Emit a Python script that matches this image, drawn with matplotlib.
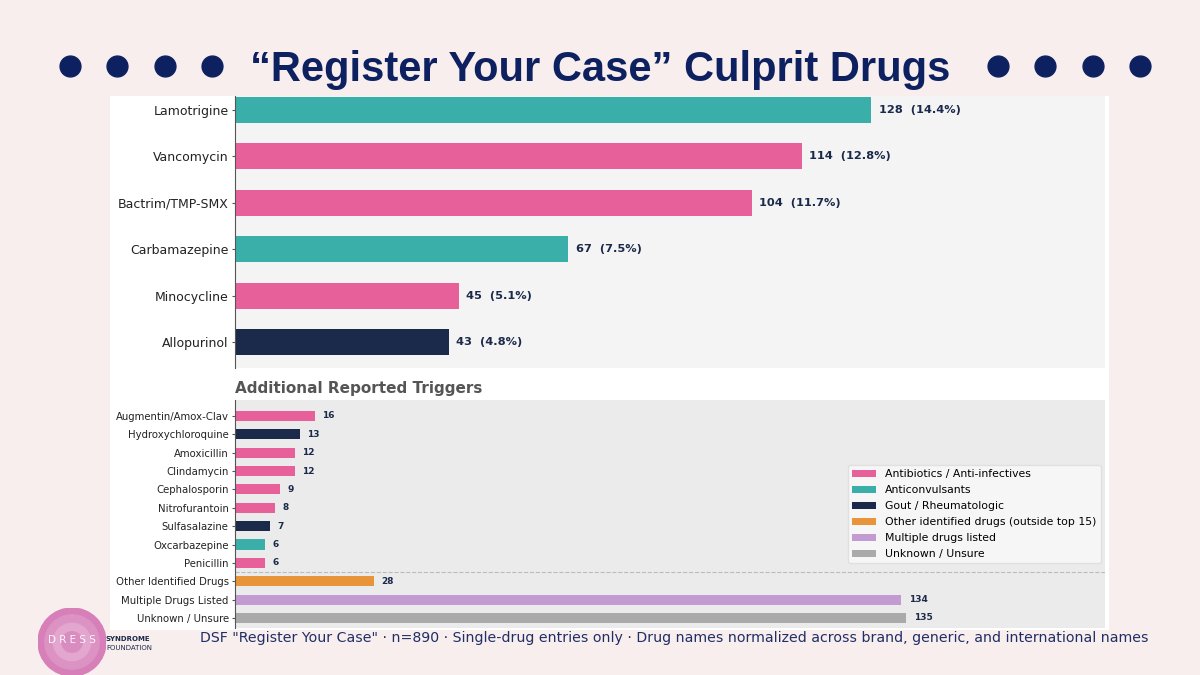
import matplotlib
matplotlib.use("Agg")
import matplotlib.pyplot as plt
from matplotlib.lines import Line2D
from matplotlib.patches import Rectangle, Circle, Patch

plt.rcParams["font.family"] = ["DejaVu Sans"]

# ---------------- data ----------------
top_drugs = ["Lamotrigine", "Vancomycin", "Bactrim/TMP-SMX", "Carbamazepine", "Minocycline", "Allopurinol"]
top_counts = [128, 114, 104, 67, 45, 43]
top_pcts = [14.4, 12.8, 11.7, 7.5, 5.1, 4.8]
top_groups = ["conv", "abx", "abx", "conv", "abx", "gout"]

add_drugs = ["Augmentin/Amox-Clav", "Hydroxychloroquine", "Amoxicillin", "Clindamycin",
             "Cephalosporin", "Nitrofurantoin", "Sulfasalazine", "Oxcarbazepine", "Penicillin",
             "Other Identified Drugs", "Multiple Drugs Listed", "Unknown / Unsure"]
add_counts = [16, 13, 12, 12, 9, 8, 7, 6, 6, 28, 134, 135]
add_groups = ["abx", "gout", "abx", "abx", "abx", "abx", "gout", "conv", "abx", "other", "multi", "unk"]

colors = {"abx": "#e8609a", "conv": "#3aafa9", "gout": "#1b2a4a",
          "other": "#e8943a", "multi": "#c39bd3", "unk": "#aaaaaa"}
legend_labels = {"abx": "Antibiotics / Anti-infectives", "conv": "Anticonvulsants",
                 "gout": "Gout / Rheumatologic", "other": "Other identified drugs (outside top 15)",
                 "multi": "Multiple drugs listed", "unk": "Unknown / Unsure"}

navy = "#0d2160"
label_col = "#1b2a4a"

fig = plt.figure(figsize=(12, 6.75), dpi=100)
fig.patch.set_facecolor("#f9eeee")

# white card behind the chart
fig.add_artist(Rectangle((110/1200, 1-630/675), 999/1200, 534/675, transform=fig.transFigure,
                         facecolor="white", edgecolor="none", zorder=0))

# title and dots
fig.text(0.5, 1-70/675, "\u201cRegister Your Case\u201d Culprit Drugs", ha="center", va="center",
         fontsize=30, fontweight="bold", color=navy, family="Liberation Sans")
for px in [70, 117, 165, 212, 998, 1045, 1093, 1140]:
    fig.add_artist(Line2D([px/1200], [1-66/675], marker="o", markersize=15, color=navy,
                          transform=fig.transFigure))

# ---------------- top chart ----------------
ax1 = fig.add_axes([235/1200, 1-368/675, 870/1200, 272/675])
ax1.set_facecolor("#f4f4f4")
y1 = list(range(len(top_drugs)))
ax1.barh(y1, top_counts, height=0.56, color=[colors[g] for g in top_groups], zorder=2)
for y, c, p in zip(y1, top_counts, top_pcts):
    ax1.text(c + 1.5, y, f"{c}  ({p}%)", va="center", ha="left", fontsize=8.2,
             fontweight="bold", color=label_col)
ax1.set_yticks(y1)
ax1.set_yticklabels(top_drugs, fontsize=9, color="#222222")
ax1.set_xlim(0, 175)
ax1.set_ylim(5.56, -0.30)
ax1.set_xticks([])
for s in ["top", "right", "bottom"]:
    ax1.spines[s].set_visible(False)
ax1.spines["left"].set_color("#555555")
ax1.spines["left"].set_linewidth(0.8)
ax1.tick_params(axis="y", length=2.5, pad=2, color="#555555", width=0.8)

# ---------------- bottom chart ----------------
ax2 = fig.add_axes([235/1200, 1-628/675, 870/1200, 228/675])
ax2.set_facecolor("#ebebeb")
y2 = list(range(len(add_drugs)))
ax2.barh(y2, add_counts, height=0.55, color=[colors[g] for g in add_groups], zorder=2)
for y, c in zip(y2, add_counts):
    ax2.text(c + 1.5, y, str(c), va="center", ha="left", fontsize=6.5,
             fontweight="bold", color=label_col)
ax2.axhline(8.5, color="#bbbbbb", linestyle="--", linewidth=0.8, zorder=1)
ax2.set_yticks(y2)
ax2.set_yticklabels(add_drugs, fontsize=7.3, color="#222222")
ax2.set_xlim(0, 175)
ax2.set_ylim(11.545, -0.87)
ax2.set_xticks([])
for s in ["top", "right", "bottom"]:
    ax2.spines[s].set_visible(False)
ax2.spines["left"].set_color("#555555")
ax2.spines["left"].set_linewidth(0.8)
ax2.tick_params(axis="y", length=2.5, pad=2, color="#555555", width=0.8)
ax2.set_title("Additional Reported Triggers", loc="left", fontsize=11, fontweight="bold",
              color="#555555", pad=5)

handles = [Patch(facecolor=colors[k], label=legend_labels[k]) for k in ["abx", "conv", "gout", "other", "multi", "unk"]]
ax2.legend(handles=handles, loc="upper right", bbox_to_anchor=(0.995, 0.715), fontsize=7.8,
           frameon=True, facecolor="#fafafa", edgecolor="#dddddd", borderaxespad=0,
           handlelength=2.2, handleheight=0.7, labelspacing=0.55)

# ---------------- footer ----------------
fig.text(200/1200, 1-638/675,
         'DSF "Register Your Case" \u00b7 n=890 \u00b7 Single-drug entries only \u00b7 '
         'Drug names normalized across brand, generic, and international names',
         ha="left", va="center", fontsize=10.2, color="#1f2f66")

# logo
axl = fig.add_axes([38/1200, 1-676/675, 68/1200, 68/675])
axl.set_xlim(-1, 1)
axl.set_ylim(-1, 1)
axl.set_aspect("equal")
axl.axis("off")
for r, col in [(1.0, "#d67fb8"), (0.8, "#dc92c3"), (0.55, "#e3a6cf"), (0.3, "#d88cc0")]:
    axl.add_patch(Circle((0, 0), r, color=col))
axl.text(0, 0.05, "D R E S S", ha="center", va="center", fontsize=7.5, color="white", alpha=0.9)
fig.text(106/1200, 1-639/675, "SYNDROME", fontsize=5, fontweight="bold", color="#1b2a4a", va="center")
fig.text(106/1200, 1-648/675, "FOUNDATION", fontsize=5, color="#1b2a4a", va="center")

fig.savefig("out.png", dpi=100, facecolor=fig.get_facecolor())
